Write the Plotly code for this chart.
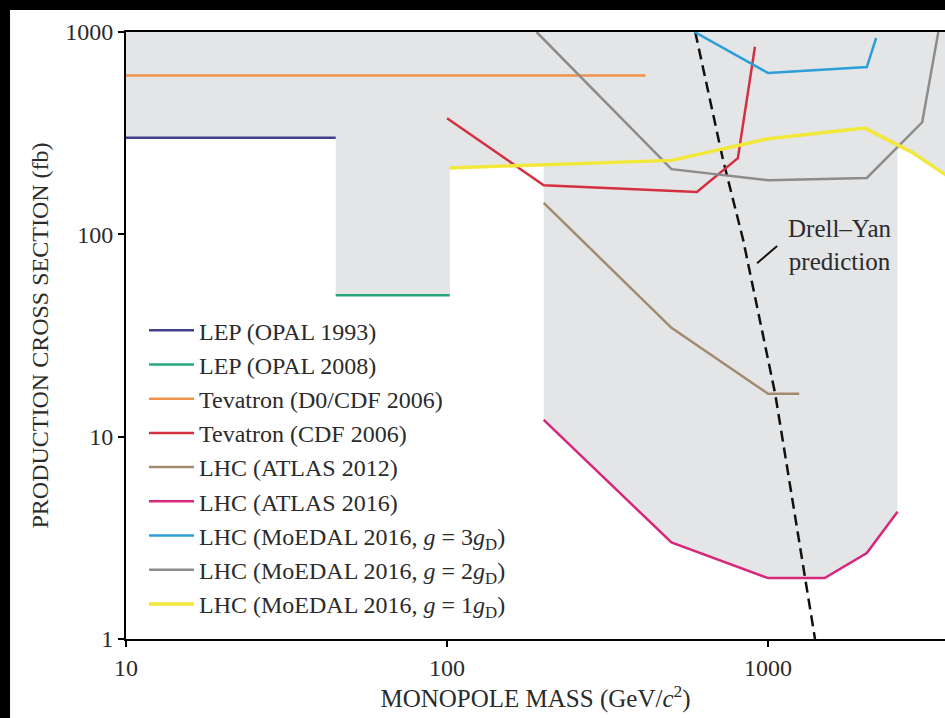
import plotly.graph_objects as go

# ---- data (GeV, fb) ----
lep93_x = [10, 45];            lep93_y = [300, 300]
lep08_x = [45, 102];           lep08_y = [50, 50]
tevdc_x = [10, 415];           tevdc_y = [610, 610]
tevcdf_x = [100, 200, 600, 805, 910]
tevcdf_y = [375, 175, 162, 238, 845]
atl12_x = [200, 500, 1000, 1250]
atl12_y = [143, 34.5, 16.3, 16.3]
atl16_x = [200, 500, 1000, 1500, 2030, 2530]
atl16_y = [12.1, 3.0, 2.0, 2.0, 2.66, 4.25]
moe3_x = [590, 1000, 2030, 2170]
moe3_y = [1000, 627, 671, 934]
moe2_x = [190, 500, 1000, 2030, 3020, 3390]
moe2_y = [1000, 210, 185, 190, 358, 1000]
moe1_x = [102, 500, 1000, 2000, 2800, 3600]
moe1_y = [213, 232, 297, 335, 255, 195]
dy_x = [593, 724, 836, 1052, 1400]
dy_y = [1000, 233, 94, 16.3, 1.0]
leader_x = [924, 1067]
leader_y = [72, 87.5]

# boundary of excluded (shaded) region
excl_x = [10, 10, 45, 45, 102, 102, 200, 200, 500, 1000, 1500, 2030, 2530, 2530, 2800, 3600, 3600]
excl_y = [1000, 300, 300, 50, 50, 213, 220, 12.1, 3.0, 2.0, 2.0, 2.66, 4.25, 268, 255, 195, 1000]

series = [
    ("LEP (OPAL 1993)", lep93_x, lep93_y, "#433f8f", 2.5),
    ("LEP (OPAL 2008)", lep08_x, lep08_y, "#27a87a", 2.5),
    ("Tevatron (D0/CDF 2006)", tevdc_x, tevdc_y, "#f0924c", 2.5),
    ("Tevatron (CDF 2006)", tevcdf_x, tevcdf_y, "#d4303f", 2.5),
    ("LHC (ATLAS 2012)", atl12_x, atl12_y, "#a38b70", 2.5),
    ("LHC (ATLAS 2016)", atl16_x, atl16_y, "#d6287b", 2.5),
    ("LHC (MoEDAL 2016, <i>g</i> = 3<i>g</i><sub>D</sub>)", moe3_x, moe3_y, "#2c9ed8", 2.5),
    ("LHC (MoEDAL 2016, <i>g</i> = 2<i>g</i><sub>D</sub>)", moe2_x, moe2_y, "#8c8c8c", 2.5),
    ("LHC (MoEDAL 2016, <i>g</i> = 1<i>g</i><sub>D</sub>)", moe1_x, moe1_y, "#f2e83a", 3.5),
]

SERIF = "Liberation Serif"
TXT = "#2b2b2b"

fig = go.Figure()
fig.add_trace(go.Scatter(x=excl_x, y=excl_y, mode="lines", fill="toself",
                         fillcolor="#e4e5e7", line=dict(width=0), showlegend=False,
                         hoverinfo="skip"))
fig.add_trace(go.Scatter(x=dy_x, y=dy_y, mode="lines", showlegend=False,
                         line=dict(color="#111111", width=2.5, dash="11px,6px")))
fig.add_trace(go.Scatter(x=leader_x, y=leader_y, mode="lines", showlegend=False,
                         line=dict(color="#111111", width=2)))
for i, (name, xs, ys, col, w) in enumerate(series):
    fig.add_trace(go.Scatter(x=xs, y=ys, mode="lines", name=name,
                             legendgroup=f"g{i}",
                             line=dict(color=col, width=w)))

fig.add_annotation(x=3.224, y=1.947, xref="x", yref="y",
                   text="Drell\u2013Yan<br>prediction", showarrow=False,
                   font=dict(family=SERIF, size=25, color=TXT),
                   xanchor="center", yanchor="middle", align="center")

# white page with black border strips
fig.add_shape(type="rect", xref="paper", yref="paper",
              x0=-0.1416, x1=1.2, y0=-0.3, y1=1.0362,
              fillcolor="white", line=dict(width=0), layer="below")

fig.update_layout(
    width=945, height=718,
    margin=dict(l=126, r=0, t=32, b=79),
    paper_bgcolor="black", plot_bgcolor="white",
    font=dict(family=SERIF, size=22, color=TXT),
    showlegend=True,
    legend=dict(x=0.022, y=0.545, xanchor="left", yanchor="top",
                bgcolor="rgba(0,0,0,0)", font=dict(family=SERIF, size=24, color=TXT),
                tracegroupgap=0, itemwidth=45),
    xaxis=dict(type="log", range=[1, 3.551], showgrid=False, zeroline=False,
               tickvals=[10, 100, 1000], ticktext=["10", "100", "1000"],
               ticks="outside", ticklen=6, tickwidth=1.5, tickcolor="black",
               showline=True, linecolor="black", linewidth=2, mirror=True,
               tickfont=dict(family=SERIF, size=24, color=TXT),
               title=dict(text="MONOPOLE MASS (GeV/<i>c</i><sup>2</sup>)",
                          font=dict(family=SERIF, size=25, color=TXT), standoff=4)),
    yaxis=dict(type="log", range=[0, 3], showgrid=False, zeroline=False,
               tickvals=[1, 10, 100, 1000], ticktext=["1", "10", "100", "1000"],
               ticks="outside", ticklen=6, tickwidth=1.5, tickcolor="black",
               showline=True, linecolor="black", linewidth=2, mirror=False,
               tickfont=dict(family=SERIF, size=24, color=TXT),
               title=dict(text="PRODUCTION CROSS SECTION (fb)",
                          font=dict(family=SERIF, size=24, color=TXT), standoff=10)),
)

fig.write_html("out.html")
